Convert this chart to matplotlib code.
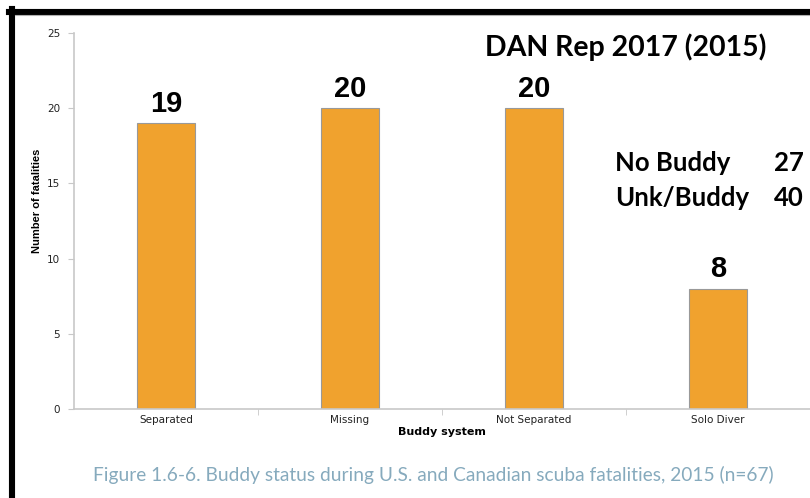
import matplotlib.pyplot as plt
from matplotlib.lines import Line2D

categories = ['Separated', 'Missing', 'Not Separated', 'Solo Diver']
fatalities = [19, 20, 20, 8]
y_ticks = [0, 5, 10, 15, 20, 25]
summary_labels = ['No Buddy', 'Unk/Buddy']
summary_values = [27, 40]

fig = plt.figure(figsize=(8.1, 4.98), dpi=100)
ax = fig.add_axes([0.0914, 0.1787, 0.9086, 0.755])

x = range(len(categories))
bars = ax.bar(x, fatalities, width=0.315, color='#F0A22E', edgecolor='#999999', linewidth=0.8, zorder=2)

for b, v in zip(bars, fatalities):
    ax.annotate(str(v), (b.get_x() + b.get_width() / 2, v), xytext=(0, 4),
                textcoords='offset points', ha='center', va='bottom',
                fontsize=21, fontweight='bold', family='Liberation Sans')

ax.set_xlim(-0.5, 3.5)
ax.set_ylim(0, 25)
ax.set_yticks(y_ticks)
ax.set_xticks(list(x))
ax.set_xticklabels(categories)
ax.set_xticks([0.5, 1.5, 2.5], minor=True)
ax.tick_params(axis='x', which='major', length=0, labelsize=7.5, pad=4)
ax.tick_params(axis='x', which='minor', length=4, color='#c8c8c8')
ax.tick_params(axis='y', length=4, color='#c8c8c8', labelsize=7.5, pad=6)
for lab in ax.get_xticklabels() + ax.get_yticklabels():
    lab.set_family('DejaVu Sans')
    lab.set_color('#222222')

for s in ['top', 'right']:
    ax.spines[s].set_visible(False)
for s in ['left', 'bottom']:
    ax.spines[s].set_color('#c8c8c8')
    ax.spines[s].set_linewidth(1.2)

ax.set_ylabel('Number of fatalities', fontsize=8, fontweight='bold', family='Liberation Sans')
ax.yaxis.set_label_coords(-0.044, 0.555)
ax.set_xlabel('Buddy system', fontsize=8, fontweight='bold', family='DejaVu Sans', labelpad=2)

fig.text(0.773, 0.905, 'DAN Rep 2017 (2015)', ha='center', va='center',
         fontsize=20.5, fontweight='bold', family='Lato')
for i, (lab, val) in enumerate(zip(summary_labels, summary_values)):
    yy = 0.673 - i * 0.07
    fig.text(0.759, yy, lab, ha='left', va='center', fontsize=18.5, fontweight='bold', family='Lato')
    fig.text(0.992, yy, str(val), ha='right', va='center', fontsize=18.5, fontweight='bold', family='Lato')

fig.text(0.5345, 0.046, 'Figure 1.6-6. Buddy status during U.S. and Canadian scuba fatalities, 2015 (n=67)',
         ha='center', va='center', fontsize=13.8, color='#86aabd', family='Lato')

# black frame on the left and top
fig.add_artist(Line2D([0.0148, 0.0148], [0, 0.982], color='black', linewidth=4.4, transform=fig.transFigure))
fig.add_artist(Line2D([0.011, 1.0], [0.976, 0.976], color='black', linewidth=4.4, transform=fig.transFigure))
fig.add_artist(Line2D([0.018, 1.0], [0.969, 0.969], color='#b0b0b0', linewidth=0.8, transform=fig.transFigure))

fig.savefig('out.png', dpi=100)
